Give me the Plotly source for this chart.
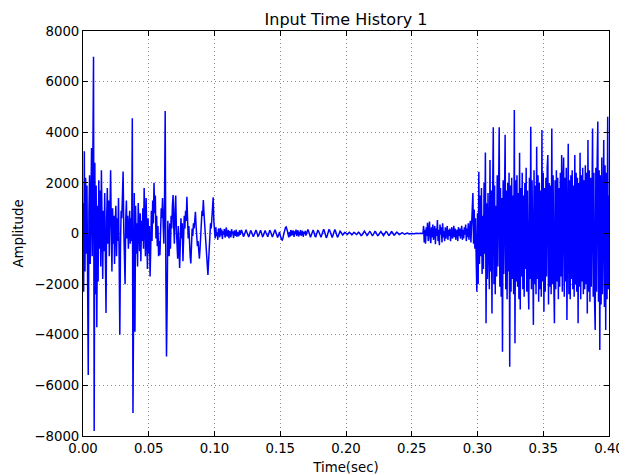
import numpy as np
import plotly.graph_objects as go

dt = 0.0005

# 0.000 - 0.0995 s : strong early burst
seg_early = [
    1200, -2300, 3250, -1500, 2200, -800, 1900, -2600, -5590, 800, 2300, -1200, 1500, 3380, -900, 2100, 6980, -7800, 2800, -2400,
    1900, -3700, 1100, -1900, 2100, -600, 1700, -1300, 2500, 400, -1800, 900, -700, 1600, -1100, -3140, 600, 1800, -400, 1300,
    -900, 1200, 2500, 300, -1500, 1000, -400, 700, -1200, 400, 1100, -900, 600, -300, 1400, -1000, -4000, -500, 900, 600,
    1200, 2450, 200, -1000, -2000, 500, 1300, -200, 700, -600, 300, 900, -400, 600, -300, 4550, -7090, -1200, 1600, -3880,
    1100, -800, 400, -1300, 1200, 300, -700, 800, -1100, 500, -300, 1000, -600, 1800, 200, -900, 1400, -400, -1400, 600,
    -800, 300, -1700, -600, 900, -300, 1300, 400, 2000, 800, 1500, -200, 700, -500, 300, -900, -300, -860, 200, 1000,
    600, 1400, 300, -400, 1200, 4840, -1500, -4860, -2750, 500, -300, -900, 400, -600, 700, 200, 1100, 1520, 300, -400,
    900, 1500, 200, -700, -1000, 300, -500, -1360, -400, 600, -200, 400, -1100, -300, 700, 200, 900, 500, 1450, 600,
    -200, 300, -600, -900, -1180, -500, 200, -100, 400, 200, 600, 860, 300, -200, -500, -300, -700, -1000, -600, 100,
    500, 900, 700, 1320, 800, 300, -200, -600, -900, -1300, -1640, -1100, -500, 100, 400, 200, 600, 900, 1430, 500,
]

# 0.100 - 0.2585 s : quiet section
seg_quiet = [
    150, -200, 250, -100, 50, -250, 200, 100, -150, 220, -80, 160, -220, 90, -40, 180, -160, 60, 240, -120,
    -60, 140, -190, 100, 20, -150, 170, -30, 80, -180, 120, 40, -90, 150, -130, 60, 10, -110, 130, -50,
    90, 140, 60, -40, -120, -80, 30, 110, 150, 70, -20, -100, -140, -60, 40, 120, 80, -10, -90, -130,
    -70, 20, 100, 140, 80, -30, -110, -90, 10, 90, 130, 60, -50, -120, -100, 0, 80, 120, 50, -40,
    -110, -130, -50, 60, 130, 90, -20, -100, -140, -70, 40, 110, 150, 80, -30, -120, -160, -90, 20, 60,
    -80, -180, -240, -260, -200, -60, 80, 180, 240, 260, 200, 90, -40, -150, 60, -120, 140, -80, 110, -60,
    120, -140, 90, -30, 150, -100, 40, 130, -120, 70, -60, 140, -90, 30, 110, -130, 50, -20, 100, -80,
    20, 120, 160, 100, -20, -120, -150, -80, 30, 110, 140, 70, -40, -120, -130, -50, 50, 120, 110, 30,
    -60, -130, -150, -70, 40, 130, 170, 110, 0, -110, -170, -130, -30, 80, 150, 140, 60, -50, -140, -160,
    -90, 40, 140, 160, 100, -10, -110, -150, -110, -20, 60, 90, 60, 10, -40, -60, -30, 20, 40, 30,
    0, -30, -40, -10, 30, 50, 30, -10, -40, -50, -20, 20, 40, 30, 0, -30, -40, -20, 20, 50,
    40, 0, -50, -80, -70, -20, 40, 80, 90, 50, -10, -60, -80, -50, 10, 60, 80, 60, 0, -50,
    -80, -70, -20, 40, 80, 70, 20, -40, -80, -70, -20, 30, 70, 80, 40, -20, -70, -80, -40, 20,
    60, 80, 60, 10, -40, -70, -60, -10, 40, 70, 60, 20, -30, -60, -50, -10, 30, 50, 40, 10,
    -20, -40, -30, 0, 20, 30, 20, 0, -20, -30, -20, 0, 20, 20, 10, -10, -20, -10, 0, 10,
    10, 0, -10, -20, -10, 0, 10, 20, 10, 0, -10, -10, 0, 10, 10, 0, -10, 0,
]

# 0.259 - 0.2995 s : low-level noise
seg_noise = [
    300, -350, 150, -400, 250, -100, 420, -300, 100, 470, -200, -380, 250, -150, 350, -250, 50, 300, -420, 200,
    -100, 530, -300, 150, -460, 350, -50, 250, -350, 400, -150, 100, -300, 250, -200, 50, 300, -250, 150, -100,
    200, -300, 100, 250, -200, -50, 300, -150, 200, -250, 50, 150, -300, 250, -100, 200, -200, 100, 300, -250,
    150, -200, 250, -50, 350, -300, 200, -150, 400, -250, 100, 500, -350, 300, 700, 1600, -400, 950, -600, 600, -1000, -2300,
]

# 0.300 - 0.400 s : strong late burst
seg_late = [
    800, -2000, 2440, -1200, 1500, -900, 1800, -1600, 700, -1400, 2000, -800, 3200, -3550, 1200, -1800, 1600, -1100, -2200, 2900,
    -1500, 1700, -3160, 1300, 4200, -2000, 1900, -2400, 1100, -1700, 2300, -1300, 1600, 4200, -2100, 1800, -2500, 1400, -4670, 2100,
    -1600, 2500, 3900, -2200, 1700, -2600, 2000, -1500, 2400, -5260, 1900, -2300, 2200, -1800, 1500, -2400, 4880, -4340, 2100, -1900,
    2300, -2100, 1600, -2600, 3190, -3000, 1800, -1700, 2400, -2200, 1500, -2500, 2000, -1400, 2600, -2300, 1700, -1900, -3000, 2200,
    -1800, 4220, -2200, 2100, -1600, -3610, 2500, -2000, 1900, -2400, 3430, -1800, 2300, -2700, 2000, -2200, 1700, -2500, 4090, -1900,
    2400, -3090, 1800, -2300, 2200, -1700, 2600, 3100, -2800, 2000, -2100, 1900, -2400, 4150, -2000, 2300, -1800, -3550, 2100, -2200,
    2500, -1900, 2200, -2600, 1800, -2100, 2400, -1700, 3100, -2300, 2000, 3000, -2500, 2200, -1900, 2600, -3420, 2000, 3550, -2400,
    2100, -2600, 2300, -1800, 2500, -2200, 1900, -2500, 3100, -2000, 2400, -2300, 2200, -3550, 2000, -2100, 3190, -2600, 2300, -1900,
    2600, -2400, 2100, -2200, 2700, -2000, 2400, -3160, 3690, -2300, 2500, -2700, 2200, -2100, 2800, 4150, -2500, 2400, -2600, -3810,
    2600, -2300, 2900, 4420, -2700, 2500, -4600, 2300, -2800, 3000, -2400, 2600, 3690, -2900, 2700, -3810, 2400, -2600, 4610, -2200, 1500,
]

amplitude = seg_early + seg_quiet + seg_noise + seg_late
time = np.arange(len(amplitude)) * dt

x_ticks = [0.00, 0.05, 0.10, 0.15, 0.20, 0.25, 0.30, 0.35, 0.40]
x_tick_text = ["0.00", "0.05", "0.10", "0.15", "0.20", "0.25", "0.30", "0.35", "0.40"]
y_ticks = [-8000, -6000, -4000, -2000, 0, 2000, 4000, 6000, 8000]

FONT = "DejaVu Sans"

# the page body adds an 8px offset, so the figure is sized to fit the window
FIG_W, FIG_H = 619, 467

fig = go.Figure()
fig.add_trace(go.Scatter(
    x=time, y=amplitude, mode="lines",
    line=dict(color="#0000ff", width=1.5),
    showlegend=False,
))

axis_common = dict(
    automargin=False,
    showline=True, linecolor="black", linewidth=1, mirror="allticks",
    ticks="inside", ticklen=5, tickcolor="black", tickwidth=1,
    showgrid=True, gridcolor="rgba(0,0,0,0.45)", griddash="1px,3px", gridwidth=1,
    zeroline=False,
    tickfont=dict(family=FONT, size=13.3, color="black"),
)

fig.update_layout(
    width=FIG_W, height=FIG_H,
    margin=dict(l=75, r=18, t=23, b=39, autoexpand=False),
    paper_bgcolor="white", plot_bgcolor="white",
    font=dict(family=FONT, color="black"),
    title=dict(text="Input Time History 1", x=338 / FIG_W, xanchor="center",
               xref="container", yref="container",
               y=1 - 11 / FIG_H, yanchor="middle",
               font=dict(family=FONT, size=16, color="black")),
    xaxis=dict(
        range=[0, 0.4], tickvals=x_ticks, ticktext=x_tick_text,
        title=dict(text="Time(sec)", font=dict(family=FONT, size=13.3), standoff=8),
        **axis_common,
    ),
    yaxis=dict(
        range=[-8000, 8000], tickvals=y_ticks,
        title=dict(text="Amplitude", font=dict(family=FONT, size=13.3), standoff=7),
        **axis_common,
    ),
)

fig.write_html("out.html")
